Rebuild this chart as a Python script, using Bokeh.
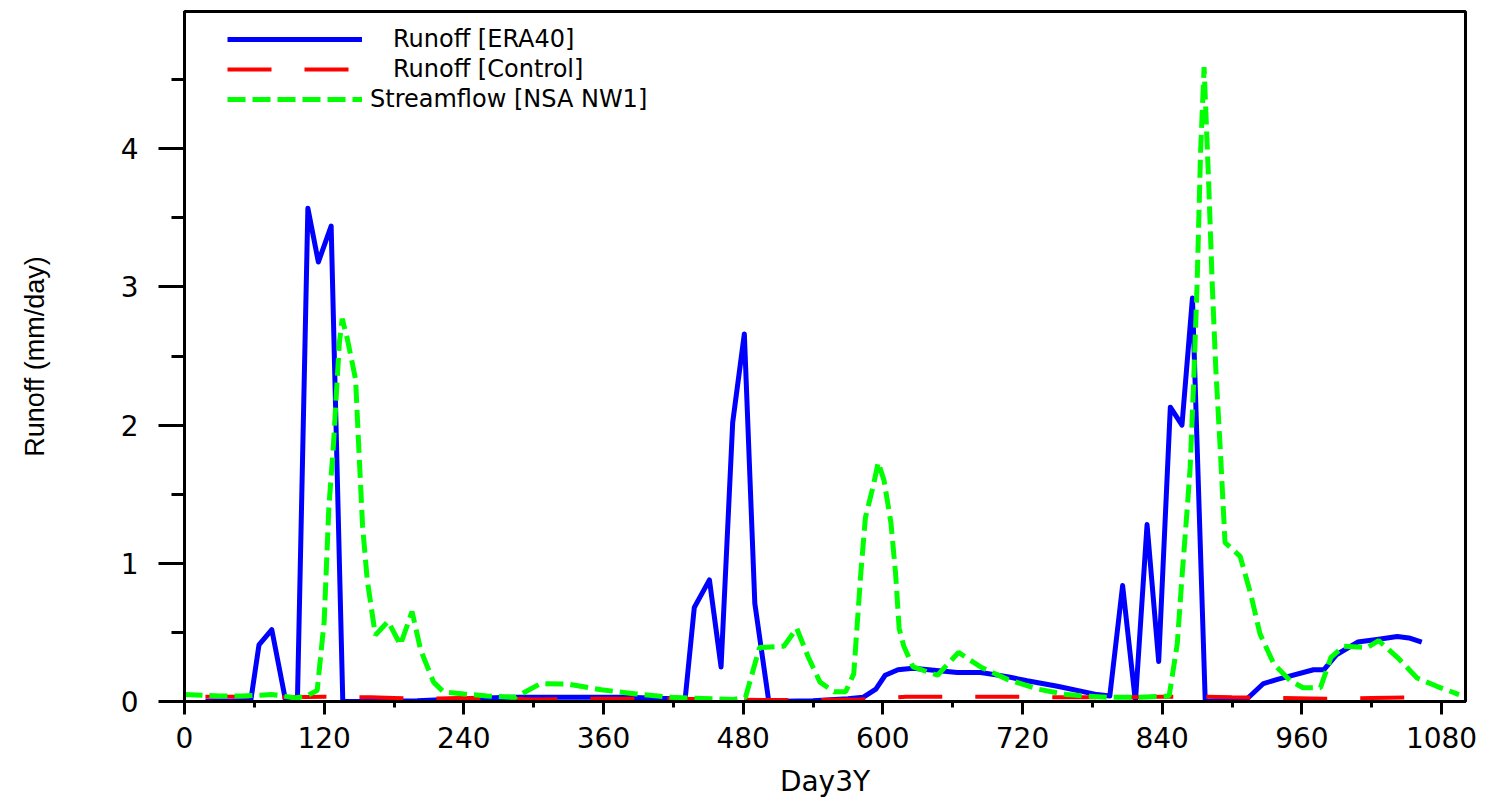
from bokeh.plotting import figure
from bokeh.models import Range1d, SingleIntervalTicker, Legend, LegendItem
from bokeh.embed import file_html
from bokeh.resources import INLINE

# ---------------- data ----------------
blue_day = [18, 40, 57, 64, 75, 87, 97, 106, 115, 126, 136, 160, 200, 240, 280, 330, 380,
            420, 430, 438, 451, 461, 471, 481, 490, 502, 540, 570, 583, 594, 602, 613, 626,
            664, 684, 707, 724, 750, 784, 795, 806, 817, 827, 837, 847, 857, 866, 877, 913,
            927, 939, 970, 979, 990, 1008, 1026, 1042, 1052, 1063]
blue_val = [0.0, 0.0, 0.01, 0.41, 0.52, 0.0, 0.0, 3.57, 3.18, 3.44, 0.0, 0.0, 0.005, 0.02,
            0.03, 0.03, 0.03, 0.02, 0.005, 0.68, 0.88, 0.25, 2.02, 2.66, 0.71, 0.0, 0.005,
            0.02, 0.03, 0.09, 0.19, 0.23, 0.24, 0.21, 0.21, 0.18, 0.15, 0.11, 0.05, 0.04,
            0.84, 0.0, 1.28, 0.29, 2.13, 2.0, 2.92, 0.0, 0.02, 0.13, 0.16, 0.23, 0.23, 0.34,
            0.43, 0.45, 0.47, 0.46, 0.43]

red_day = [18, 60, 90, 120, 140, 160, 180, 200, 240, 280, 300, 360, 420, 460, 500, 540,
           580, 600, 620, 700, 760, 800, 840, 870, 900, 940, 980, 1020, 1063]
red_val = [0.035, 0.035, 0.03, 0.035, 0.03, 0.03, 0.025, 0.02, 0.025, 0.02, 0.015, 0.02,
           0.02, 0.015, 0.01, 0.01, 0.015, 0.02, 0.035, 0.035, 0.03, 0.03, 0.035, 0.035,
           0.03, 0.025, 0.02, 0.025, 0.03]

green_day = [0, 15, 30, 50, 65, 75, 85, 95, 105, 114, 120, 124, 128, 131, 133, 135.5, 140,
             147, 150, 153, 157, 164, 175, 185.5, 195.5, 203, 214, 222.5, 240, 260, 284, 306,
             330, 358, 388, 418, 452, 472, 482, 494, 515, 526, 536, 546, 558, 568, 575, 581,
             585, 592, 596, 601, 607, 611, 614, 618, 626, 647, 665, 684, 707, 733, 758, 772,
             795, 821, 846, 853, 857, 862, 864, 867, 870, 873, 876, 880, 883, 886, 890, 894,
             907, 916, 924, 936, 950, 961, 976, 985, 996, 1016, 1026, 1042, 1059, 1076, 1095]
green_val = [0.05, 0.045, 0.04, 0.04, 0.045, 0.05, 0.04, 0.025, 0.04, 0.08, 0.58, 1.4, 1.86,
             2.3, 2.59, 2.77, 2.62, 2.33, 1.79, 1.27, 0.88, 0.48, 0.58, 0.41, 0.65, 0.37,
             0.14, 0.07, 0.055, 0.04, 0.03, 0.13, 0.125, 0.085, 0.055, 0.03, 0.02, 0.015,
             0.03, 0.39, 0.40, 0.53, 0.32, 0.14, 0.07, 0.07, 0.2, 0.92, 1.33, 1.57, 1.73, 1.6,
             1.29, 0.92, 0.53, 0.40, 0.25, 0.19, 0.355, 0.25, 0.16, 0.09, 0.05, 0.04, 0.03,
             0.03, 0.04, 0.42, 0.9, 1.45, 1.69, 2.3, 3.02, 3.98, 4.59, 3.74, 3.02, 2.42, 1.81,
             1.15, 1.05, 0.78, 0.49, 0.27, 0.15, 0.1, 0.1, 0.32, 0.40, 0.39, 0.44, 0.32, 0.17,
             0.11, 0.05]

series_labels = ["Runoff [ERA40]", "Runoff [Control]", "Streamflow [NSA NW1]"]
x_title = "Day3Y"
y_title = "Runoff (mm/day)"

# ---------------- figure ----------------
p = figure(frame_width=1281, frame_height=690,
           min_border_left=184, min_border_right=26, min_border_top=11, min_border_bottom=105,
           x_range=Range1d(0, 1100.6), y_range=Range1d(0, 4.993),
           output_backend="svg", toolbar_location=None,
           background_fill_color="white", border_fill_color="white")
p.grid.visible = False
p.outline_line_color = "black"
p.outline_line_width = 3
p.outline_line_alpha = 1.0

p.xaxis.ticker = SingleIntervalTicker(interval=120, num_minor_ticks=2)
p.yaxis.ticker = SingleIntervalTicker(interval=1, num_minor_ticks=2)

for ax in (p.xaxis[0], p.yaxis[0]):
    ax.axis_line_width = 3
    ax.axis_line_color = "black"
    ax.major_tick_line_width = 3
    ax.minor_tick_line_width = 3
    ax.major_tick_line_color = "black"
    ax.minor_tick_line_color = "black"
    ax.major_tick_in = 0
    ax.minor_tick_in = 0
    ax.major_label_text_font = "DejaVu Sans"
    ax.major_label_text_font_size = "28px"
    ax.major_label_text_color = "black"
    ax.axis_label_text_font_style = "normal"
    ax.axis_label_text_color = "black"

p.xaxis.major_tick_out = 13
p.xaxis.minor_tick_out = 6
p.xaxis.major_label_standoff = 12
p.xaxis.axis_label = x_title
p.xaxis.axis_label_text_font = "DejaVu Sans"
p.xaxis.axis_label_text_font_size = "28px"
p.xaxis.axis_label_standoff = 14

p.yaxis.major_tick_out = 26
p.yaxis.minor_tick_out = 13
p.yaxis.major_label_standoff = 20
p.yaxis.axis_label = y_title
p.yaxis.axis_label_text_font = "Liberation Sans"
p.yaxis.axis_label_text_font_size = "27px"
p.yaxis.axis_label_standoff = 68

# ---------------- series ----------------
r_blue = p.line(blue_day, blue_val, line_color="#0000ff", line_width=5, line_join="round")
r_red = p.line(red_day, red_val, line_color="#ff0000", line_width=4, line_dash="44 33")
r_green = p.line(green_day, green_val, line_color="#00ff00", line_width=5, line_dash="18 7")

# ---------------- legend (one box per row) ----------------
legend_rows = [(series_labels[0], r_blue, 647, 31),
               (series_labels[1], r_red, 617, 31),
               (series_labels[2], r_green, 587, 8)]
for lbl, rend, ly, stand in legend_rows:
    leg = Legend(items=[LegendItem(label=lbl, renderers=[rend])],
                 location=(43, ly), glyph_width=135, glyph_height=30, label_height=30,
                 label_standoff=stand, padding=0, margin=0, spacing=0,
                 border_line_alpha=0, background_fill_alpha=0,
                 label_text_font="DejaVu Sans", label_text_font_size="24px",
                 label_text_color="black")
    p.add_layout(leg)

open("out.html", "w").write(file_html(p, INLINE))
